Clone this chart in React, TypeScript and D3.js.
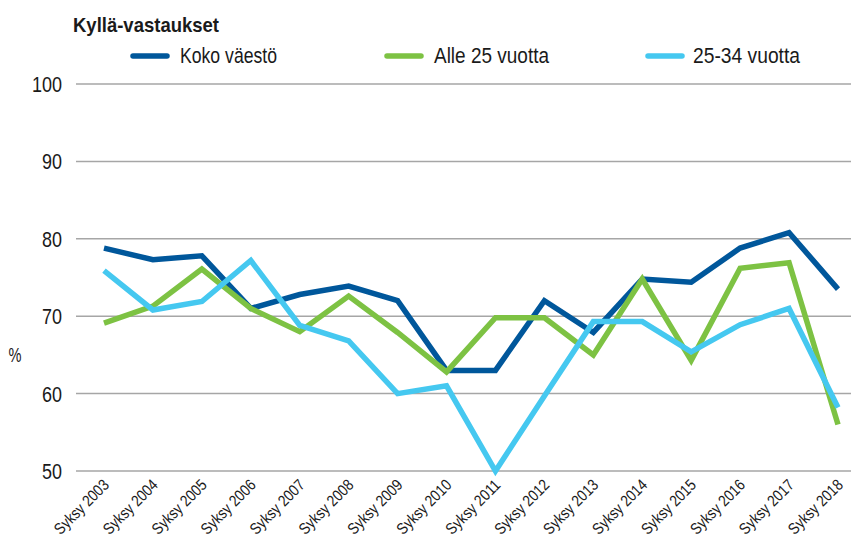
import React from "react";
import * as d3 from "d3";

const years = ["Syksy 2003","Syksy 2004","Syksy 2005","Syksy 2006","Syksy 2007","Syksy 2008","Syksy 2009","Syksy 2010","Syksy 2011","Syksy 2012","Syksy 2013","Syksy 2014","Syksy 2015","Syksy 2016","Syksy 2017","Syksy 2018"];
const koko = [78.8,77.3,77.8,71,72.8,73.9,72,63,63,72,67.9,74.8,74.4,78.8,80.8,73.5];
const alle25 = [69.1,71.3,76.1,71,68,72.6,67.9,62.8,69.8,69.8,65,74.8,64.3,76.2,76.9,56];
const v2534 = [75.9,70.8,71.9,77.2,68.8,66.8,60,61,50,59.7,69.3,69.3,65.4,68.9,71,58.2];
const yTicks = [50,60,70,80,90,100];
const seriesNames = ["Koko väestö","Alle 25 vuotta","25-34 vuotta"];
const colors = ["#00579B","#7DC243","#45C8F0"];

const FONT = "'Liberation Sans',Arial,sans-serif";

export default function App() {
  const W = 851, H = 540;
  const x = d3.scalePoint<string>().domain(years).range([104, 838]);
  const y = d3.scaleLinear().domain([50, 100]).range([471, 84]);
  const line = d3.line<number>().x((_, i) => x(years[i])!).y(d => y(d));
  const data = [koko, alle25, v2534];
  const legendX = [133, 387, 648];
  const legendTextX = [180, 434, 693];
  const legendTextW = [97, 115, 107];
  return (
    <svg width={W} height={H} style={{ position: "absolute", left: 0, top: 0 }} fontFamily={FONT}>
      <rect width={W} height={H} fill="#fff" />
      <text x={73} y={32} fontSize={21} fontWeight="bold" fill="#1a1a1a" textLength={146} lengthAdjust="spacingAndGlyphs">Kyllä-vastaukset</text>
      {seriesNames.map((n, i) => (
        <g key={n}>
          <line x1={legendX[i]} x2={legendX[i] + 34} y1={56} y2={56} stroke={colors[i]} strokeWidth={5.5} strokeLinecap="round" />
          <text x={legendTextX[i]} y={63} fontSize={22} fill="#1a1a1a" textLength={legendTextW[i]} lengthAdjust="spacingAndGlyphs">{n}</text>
        </g>
      ))}
      {yTicks.map(t => (
        <g key={t}>
          <line x1={76} x2={851} y1={y(t)} y2={y(t)} stroke="#A6A6A6" strokeWidth={1.5} />
          <text x={62} y={y(t) + 8} fontSize={22} textAnchor="end" fill="#1a1a1a" textLength={String(t).length * 10} lengthAdjust="spacingAndGlyphs">{t}</text>
        </g>
      ))}
      <text x={15} y={362} fontSize={21} textAnchor="middle" fill="#1a1a1a" textLength={13} lengthAdjust="spacingAndGlyphs">%</text>
      {data.map((d, i) => (
        <path key={i} d={line(d)!} fill="none" stroke={colors[i]} strokeWidth={5.5} strokeLinejoin="miter" />
      ))}
      {years.map(yr => (
        <text key={yr} transform={`translate(${x(yr)! + 6},${486}) rotate(-45)`} fontSize={16} textAnchor="end" fill="#1a1a1a" textLength={70} lengthAdjust="spacingAndGlyphs">{yr}</text>
      ))}
    </svg>
  );
}
